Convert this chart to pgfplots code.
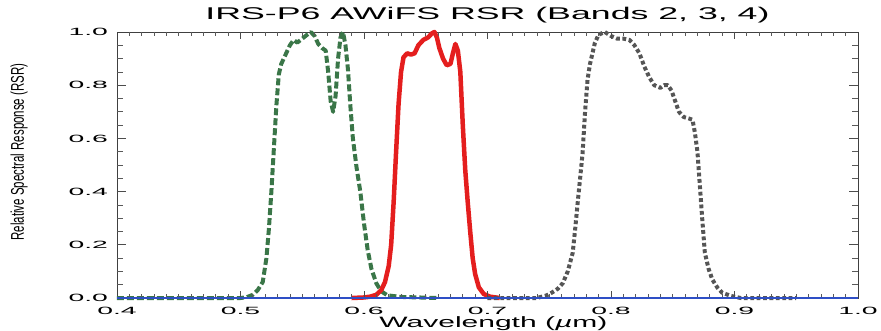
\documentclass[border=0pt]{standalone}
\usepackage{fontspec}
\setmainfont{Liberation Sans}
\newfontfamily\tickfont[FakeStretch=2.7]{Liberation Sans}
\newfontfamily\titlefont[FakeStretch=2.1]{Liberation Sans}
\newfontfamily\labfont[FakeStretch=2.0]{Liberation Sans}
\usepackage{pgfplots}
\usepackage{pgfplotstable}
\pgfplotsset{compat=1.18}
\definecolor{bgreen}{HTML}{3A7648}
\definecolor{bred}{HTML}{E41E1E}
\definecolor{bgray}{HTML}{555555}
\definecolor{bblue}{HTML}{2E4FC6}

\pgfplotstableread{
w v
0.400 0
0.500 0
0.505 0.003
0.510 0.012
0.514 0.03
0.518 0.06
0.521 0.15
0.523 0.26
0.525 0.40
0.527 0.56
0.529 0.72
0.531 0.84
0.533 0.88
0.536 0.91
0.540 0.95
0.543 0.97
0.546 0.96
0.550 0.975
0.554 0.99
0.557 1.0
0.560 0.985
0.563 0.955
0.566 0.94
0.569 0.93
0.571 0.85
0.573 0.74
0.575 0.70
0.577 0.76
0.579 0.90
0.581 0.98
0.583 1.0
0.585 0.95
0.587 0.86
0.589 0.72
0.591 0.60
0.594 0.49
0.597 0.40
0.600 0.28
0.603 0.18
0.606 0.11
0.610 0.055
0.614 0.025
0.619 0.01
0.630 0.004
0.645 0.002
0.660 0
}\bandtwo

\pgfplotstableread{
w v
0.590 0
0.600 0.002
0.605 0.005
0.610 0.012
0.614 0.03
0.617 0.06
0.620 0.12
0.622 0.20
0.624 0.36
0.626 0.55
0.628 0.73
0.630 0.85
0.632 0.905
0.635 0.92
0.638 0.915
0.641 0.92
0.644 0.95
0.648 0.97
0.652 0.98
0.655 0.995
0.657 1.0
0.659 0.98
0.661 0.94
0.664 0.90
0.667 0.875
0.670 0.88
0.672 0.92
0.674 0.955
0.676 0.93
0.678 0.85
0.680 0.65
0.682 0.48
0.684 0.36
0.686 0.25
0.688 0.15
0.690 0.09
0.693 0.04
0.697 0.015
0.702 0.005
0.710 0
}\bandthree

\pgfplotstableread{
w v
0.700 0
0.740 0
0.748 0.01
0.752 0.02
0.757 0.035
0.761 0.056
0.765 0.10
0.769 0.17
0.771 0.26
0.773 0.357
0.775 0.45
0.777 0.545
0.779 0.70
0.781 0.82
0.783 0.88
0.785 0.92
0.787 0.96
0.790 0.99
0.795 1.0
0.800 0.985
0.805 0.975
0.810 0.975
0.815 0.97
0.819 0.95
0.823 0.92
0.827 0.87
0.831 0.83
0.835 0.80
0.840 0.79
0.843 0.80
0.846 0.80
0.849 0.78
0.852 0.74
0.855 0.70
0.859 0.68
0.863 0.675
0.866 0.67
0.868 0.62
0.870 0.55
0.872 0.42
0.874 0.29
0.876 0.17
0.879 0.11
0.882 0.07
0.886 0.04
0.890 0.02
0.897 0.008
0.905 0
0.950 0
}\bandfour

\begin{document}
\begin{tikzpicture}
\begin{axis}[
  scale only axis, width=741pt, height=266pt,
  at={(0,0)}, anchor=south west,
  xmin=0.4, xmax=1.0, ymin=0, ymax=1.0,
  xtick={0.4,0.5,0.6,0.7,0.8,0.9,1.0},
  ytick={0,0.2,0.4,0.6,0.8,1.0},
  major tick length=0pt,
  axis line style={draw=black!75, line width=0.9pt},
  clip=false,
  xticklabel style={font=\tickfont\fontsize{10.5}{12}\selectfont, yshift=-5.5pt, /pgf/number format/fixed, /pgf/number format/fixed zerofill, /pgf/number format/precision=1, /pgf/number format/assume math mode=true},
  yticklabel style={font=\tickfont\fontsize{10.5}{12}\selectfont, xshift=-5.5pt, /pgf/number format/fixed, /pgf/number format/fixed zerofill, /pgf/number format/precision=1, /pgf/number format/assume math mode=true},
  title={IRS-P6 AWiFS RSR (Bands 2, 3, 4)},
  title style={font=\titlefont\fontsize{17}{19}\selectfont, at={(axis description cs:0.5,1)}, anchor=base, yshift=7pt},
  xlabel={Wavelength ({\itshape\textmu}m)},
  xlabel style={font=\labfont\fontsize{15}{17}\selectfont, at={(axis description cs:0.508,0)}, anchor=base, yshift=-29pt},
  ylabel={\scalebox{1}[1.6]{Relative Spectral Response (RSR)}},
  ylabel style={font=\fontsize{11.5}{13}\selectfont, at={(axis description cs:-0.132,0.549)}, anchor=center},
]
\addplot[bgreen, line width=4pt, dash pattern=on 7pt off 3pt, line join=round] table[x=w,y=v] {\bandtwo};
\addplot[bred, line width=4.5pt, line join=round] table[x=w,y=v] {\bandthree};
\addplot[bgray, line width=4pt, dash pattern=on 3.8pt off 2.6pt, line join=round] table[x=w,y=v] {\bandfour};
\end{axis}
% tick marks (axis furniture): x every 0.01, y every 0.05
\foreach \i in {1,...,59} {
  \draw[black!65, line width=0.8pt] (\i*12.35pt,0) -- ++(0,4pt);
  \draw[black!65, line width=0.8pt] (\i*12.35pt,266pt) -- ++(0,-4pt);
}
\foreach \i in {1,...,5} {
  \draw[black!70, line width=0.9pt] (\i*123.5pt,0) -- ++(0,7pt);
  \draw[black!70, line width=0.9pt] (\i*123.5pt,266pt) -- ++(0,-7pt);
}
\foreach \j in {1,...,19} {
  \draw[black!65, line width=0.8pt] (0,\j*13.3pt) -- ++(6pt,0);
  \draw[black!65, line width=0.8pt] (741pt,\j*13.3pt) -- ++(-6pt,0);
}
\foreach \j in {1,...,4} {
  \draw[black!70, line width=0.9pt] (0,\j*53.2pt) -- ++(9pt,0);
  \draw[black!70, line width=0.9pt] (741pt,\j*53.2pt) -- ++(-9pt,0);
}
\draw[bblue, line width=2.5pt] (0,0) -- (741pt,0);
\pgfresetboundingbox
\path[use as bounding box] (-117pt,-32pt) rectangle (764pt,298pt);
\end{tikzpicture}
\end{document}
